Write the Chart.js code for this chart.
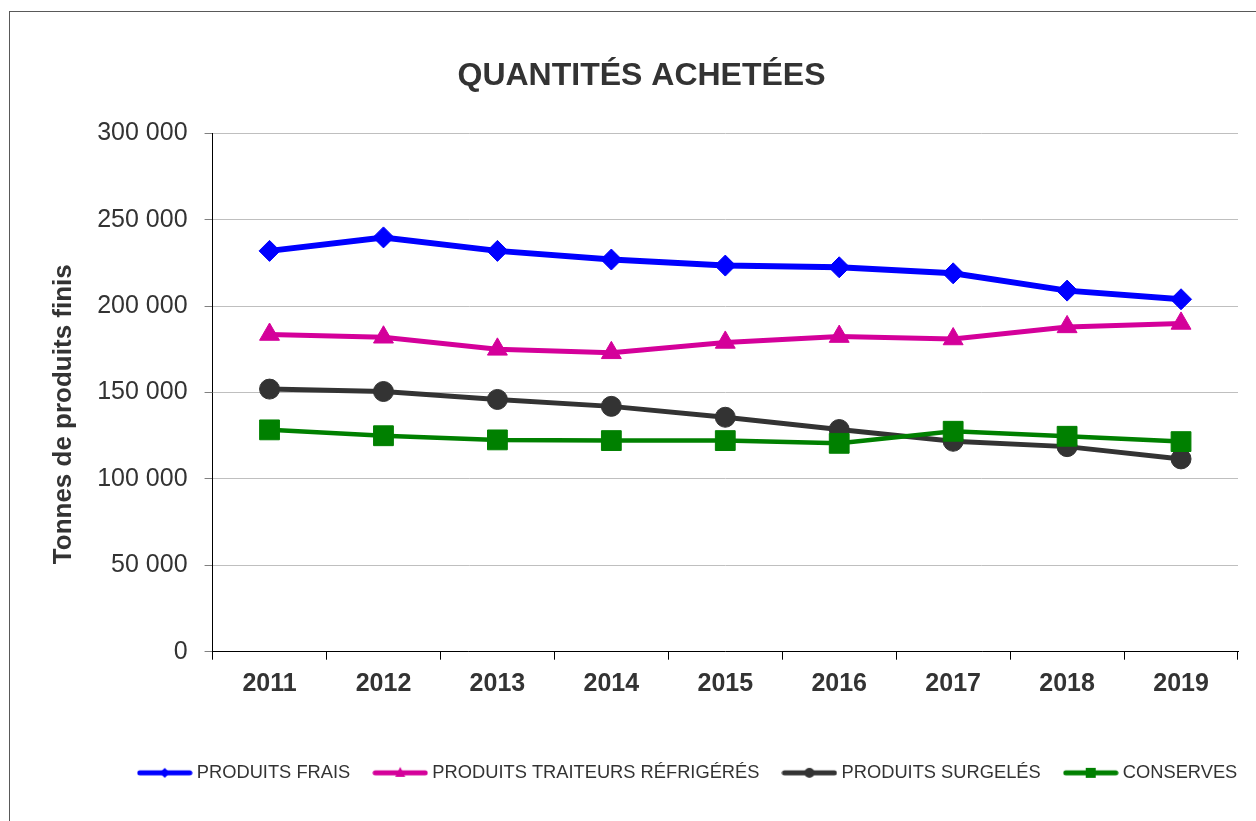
<!DOCTYPE html>
<html>
<head>
<meta charset="utf-8">
<script src="https://cdn.jsdelivr.net/npm/chart.js@4.4.1/dist/chart.umd.min.js"></script>
<style>
  body { margin: 0; background: #fff; }
  #frame { position: absolute; left: 9px; top: 11px; width: 1400px; height: 1000px; border: 1px solid #595959; }
  #chart1 { position: absolute; left: 0; top: 0; }
</style>
</head>
<body>
<div id="frame"></div>
<canvas id="chart1" width="1256" height="821"></canvas>
<script>
const years = ['2011', '2012', '2013', '2014', '2015', '2016', '2017', '2018', '2019'];
const produitsFrais = [232000, 239800, 232000, 227000, 223500, 222500, 219000, 209000, 204000];
const produitsTraiteurs = [183600, 182000, 175000, 173000, 179000, 182400, 181000, 188000, 190000];
const produitsSurgeles = [152000, 150600, 146000, 142000, 135700, 128600, 121800, 118700, 111600];
const conserves = [128400, 125000, 122600, 122200, 122200, 120600, 127600, 124700, 121600];
const yTicks = [0, 50000, 100000, 150000, 200000, 250000, 300000];

const fontName = "'Liberation Sans', Arial, sans-serif";
const textColor = '#333333';
const legendShift = 48;

// petite image ligne + marqueur pour la légende
function legendImage(color, shape) {
  let c = document.createElement('canvas');
  c.width = 56;
  c.height = 14;
  let ctx = c.getContext('2d');
  ctx.strokeStyle = color;
  ctx.fillStyle = color;
  ctx.lineWidth = 5;
  ctx.lineCap = 'round';
  ctx.beginPath();
  ctx.moveTo(3, 7);
  ctx.lineTo(53, 7);
  ctx.stroke();
  ctx.beginPath();
  if (shape == 'diamond') {
    ctx.moveTo(28, 2); ctx.lineTo(33, 7); ctx.lineTo(28, 12); ctx.lineTo(23, 7);
  } else if (shape == 'triangle') {
    ctx.moveTo(28, 1); ctx.lineTo(33, 11); ctx.lineTo(23, 11);
  } else if (shape == 'circle') {
    ctx.arc(28, 7, 5, 0, Math.PI * 2);
  } else {
    ctx.rect(23, 2, 10, 10);
  }
  ctx.closePath();
  ctx.fill();
  return c;
}

function formatNumber(v) {
  return String(v).replace(/\B(?=(\d{3})+(?!\d))/g, ' ');
}

const datasets = [
  { label: 'PRODUITS FRAIS', data: produitsFrais, borderColor: '#0000ff',
    borderWidth: 6, pointStyle: 'rectRot', pointRadius: 10.5, order: 1, legendShape: 'diamond' },
  { label: 'PRODUITS TRAITEURS RÉFRIGÉRÉS', data: produitsTraiteurs, borderColor: '#d4009a',
    borderWidth: 5, pointStyle: 'triangle', pointRadius: 11.5, order: 2, legendShape: 'triangle' },
  { label: 'PRODUITS SURGELÉS', data: produitsSurgeles, borderColor: '#333333',
    borderWidth: 5, pointStyle: 'circle', pointRadius: 10, order: 4, legendShape: 'circle' },
  { label: 'CONSERVES', data: conserves, borderColor: '#008000',
    borderWidth: 4.5, pointStyle: 'rect', pointRadius: 14, order: 3, legendShape: 'square' }
];

for (const ds of datasets) {
  ds.backgroundColor = ds.borderColor;
  ds.pointBackgroundColor = ds.borderColor;
  ds.pointBorderColor = ds.borderColor;
  ds.pointBorderWidth = 1;
  ds.tension = 0;
  ds.fill = false;
}

const shiftLegend = {
  id: 'shiftLegend',
  afterLayout(chart) {
    chart.legend.left += legendShift;
    chart.legend.right += legendShift;
  }
};

const ctx = document.getElementById('chart1');
const myChart = new Chart(ctx, {
  type: 'line',
  data: { labels: years, datasets: datasets },
  plugins: [shiftLegend],
  options: {
    responsive: false,
    animation: false,
    devicePixelRatio: 1,
    layout: { padding: { left: 45, right: 18, top: 0, bottom: 29 } },
    plugins: {
      tooltip: { enabled: false },
      title: {
        display: true,
        text: 'QUANTITÉS ACHETÉES',
        color: textColor,
        font: { family: fontName, size: 32, weight: 'bold', lineHeight: 1.2 },
        padding: { top: 57, bottom: 38 }
      },
      legend: {
        position: 'bottom',
        labels: {
          usePointStyle: true,
          pointStyleWidth: 46,
          padding: 27,
          color: textColor,
          font: { family: fontName, size: 18.3 },
          generateLabels: function (chart) {
            return chart.data.datasets.map((ds, i) => ({
              text: ds.label,
              pointStyle: legendImage(ds.borderColor, ds.legendShape),
              fillStyle: ds.borderColor,
              strokeStyle: ds.borderColor,
              lineWidth: 0,
              fontColor: textColor,
              hidden: false,
              datasetIndex: i
            }));
          }
        }
      }
    },
    scales: {
      x: {
        offset: true,
        grid: { offset: true, drawOnChartArea: false, tickLength: 8, color: '#000000' },
        border: { color: '#000000', width: 1 },
        ticks: { color: textColor, padding: 9, font: { family: fontName, size: 25, weight: 'bold', lineHeight: 1.2 } },
        afterFit: function (scale) { scale.height += 29; }
      },
      y: {
        min: 0,
        max: 300000,
        afterBuildTicks: function (scale) { scale.ticks = yTicks.map(v => ({ value: v })); },
        grid: { color: '#bfbfbf', tickColor: '#808080', tickLength: 8 },
        border: { color: '#000000', width: 1 },
        ticks: {
          color: textColor,
          padding: 17,
          font: { family: fontName, size: 25, lineHeight: 1.2 },
          callback: function (value) { return formatNumber(value); }
        },
        title: {
          display: true,
          text: 'Tonnes de produits finis\u00a0\u00a0\u00a0\u00a0\u00a0\u00a0',
          color: textColor,
          font: { family: fontName, size: 26, weight: 'bold', lineHeight: 1.2 },
          padding: { top: 3, bottom: 1 }
        }
      }
    }
  }
});
</script>
</body>
</html>
